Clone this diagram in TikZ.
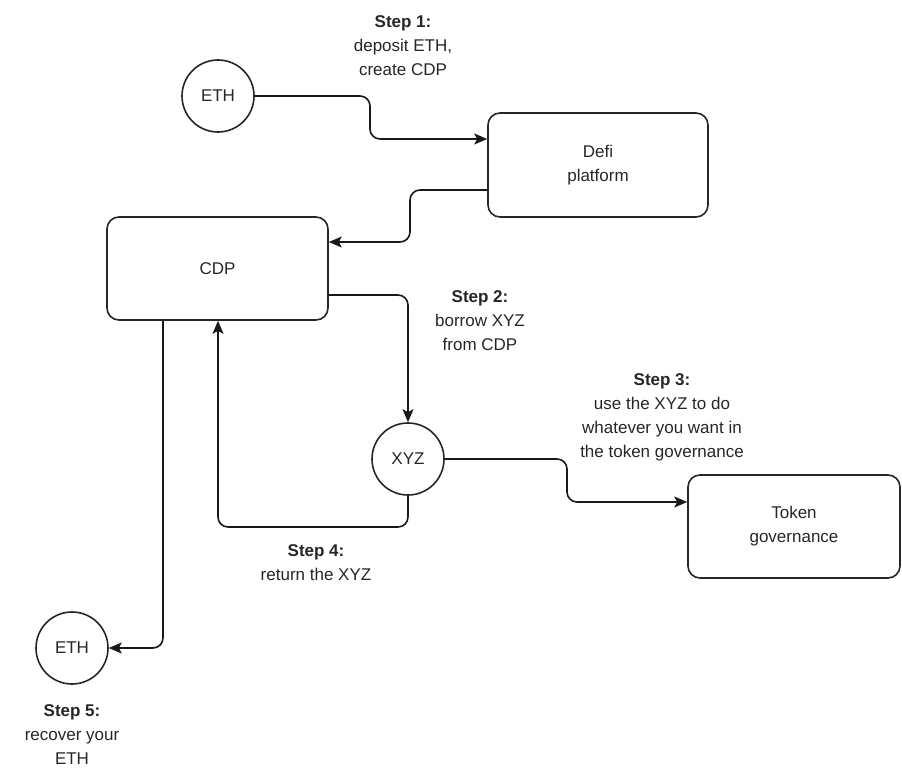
\documentclass[tikz,border=0pt]{standalone}
\usepackage{fontspec}
\setmainfont{Liberation Sans}
\usetikzlibrary{arrows.meta}
\begin{document}
\begin{tikzpicture}[x=1pt,y=-1pt,
  txt/.style={font=\fontsize{17}{24}\selectfont, text=black!85},
  circ/.style={circle,draw=black!85,line width=1.6pt,minimum size=72pt,inner sep=0pt,txt},
  box/.style={draw=black!85,rounded corners=12pt,line width=1.6pt,align=center,inner sep=0pt,txt},
  conn/.style={draw=black!90,line width=1.6pt,rounded corners=10pt,-{Stealth[length=13pt,width=11pt,inset=3pt]}},
  lbl/.style={align=center,txt,inner sep=0pt}]
\useasboundingbox (0,0) rectangle (902,768);
% nodes
\node[circ] (eth1) at (218,96) {ETH};
\node[box,minimum width=220pt,minimum height=104pt] (defi) at (598,165) {Defi\\platform};
\node[box,minimum width=221pt,minimum height=103pt] (cdp) at (217.5,268.5) {CDP};
\node[circ] (xyz) at (408,459) {XYZ};
\node[box,minimum width=212pt,minimum height=103pt] (tok) at (794,526.5) {Token\\governance};
\node[circ] (eth2) at (72,648) {ETH};
% coordinates
\coordinate (d1) at (defi.west |- 0,190);
\coordinate (c1) at (cdp.east |- 0,242);
\coordinate (c2) at (cdp.east |- 0,295);
\coordinate (c3) at (218,0);
\coordinate (c4) at (163,0);
% connectors
\draw[conn] (eth1.east) -- (370,96) -- (370,139) -- (defi.west |- 0,139);
\draw[conn] (d1) -- (410,190) -- (410,242) -- (c1);
\draw[conn] (c2) -- (408,295) -- (xyz.north);
\draw[conn] (xyz.east) -- (567,459) -- (567,502) -- (tok.west |- 0,502);
\draw[conn] (xyz.south) -- (408,527) -- (218,527) -- (cdp.south -| c3);
\draw[conn] (cdp.south -| c4) -- (163,648) -- (eth2.east);
% labels
\node[lbl] (l1) at (403,46) {\textbf{Step 1:}\\deposit ETH,\\create CDP};
\node[lbl] (l2) at (480,321) {\textbf{Step 2:}\\borrow XYZ\\from CDP};
\node[lbl] (l3) at (662,417) {\textbf{Step 3:}\\use the XYZ to do\\whatever you want in\\the token governance};
\node[lbl] (l4) at (316,563) {\textbf{Step 4:}\\return the XYZ};
\node[lbl] (l5) at (72,735) {\textbf{Step 5:}\\recover your\\ETH};
\end{tikzpicture}
\end{document}
